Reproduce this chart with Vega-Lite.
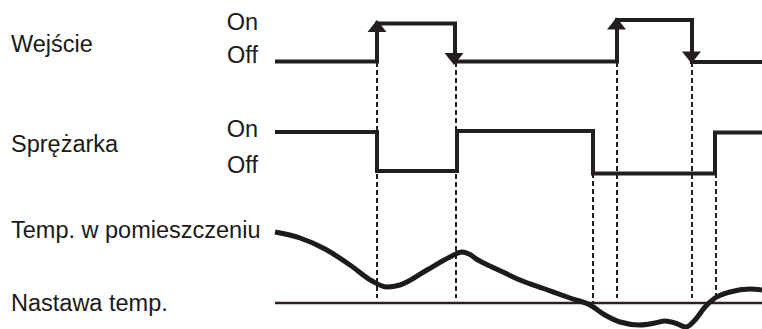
{
  "$schema": "https://vega.github.io/schema/vega-lite/v6.json",
  "width": 762,
  "height": 329,
  "padding": 0,
  "autosize": {"type": "none"},
  "background": "white",
  "config": {"view": {"stroke": null}},
  "datasets": {
    "signals": [
      {"s": "Wejście", "t": 275, "v": 61.5},
      {"s": "Wejście", "t": 377, "v": 23.5},
      {"s": "Wejście", "t": 455, "v": 61.5},
      {"s": "Wejście", "t": 617, "v": 20},
      {"s": "Wejście", "t": 692, "v": 62},
      {"s": "Wejście", "t": 762, "v": 62},
      {"s": "Sprężarka", "t": 275, "v": 132},
      {"s": "Sprężarka", "t": 377, "v": 171},
      {"s": "Sprężarka", "t": 457, "v": 131},
      {"s": "Sprężarka", "t": 593, "v": 173.5},
      {"s": "Sprężarka", "t": 715, "v": 132.5},
      {"s": "Sprężarka", "t": 762, "v": 132.5}
    ],
    "temp": [
      {"t": 275, "v": 232}, {"t": 300, "v": 238}, {"t": 325, "v": 249},
      {"t": 350, "v": 265}, {"t": 372, "v": 281}, {"t": 387, "v": 287},
      {"t": 400, "v": 285}, {"t": 427, "v": 270}, {"t": 450, "v": 257},
      {"t": 462, "v": 252}, {"t": 469, "v": 254}, {"t": 478, "v": 260},
      {"t": 490, "v": 266}, {"t": 505, "v": 273}, {"t": 520, "v": 280},
      {"t": 545, "v": 289}, {"t": 570, "v": 298}, {"t": 590, "v": 305},
      {"t": 605, "v": 315}, {"t": 620, "v": 322}, {"t": 640, "v": 325},
      {"t": 655, "v": 323}, {"t": 665, "v": 321}, {"t": 675, "v": 323},
      {"t": 686, "v": 327}, {"t": 695, "v": 320}, {"t": 705, "v": 307},
      {"t": 715, "v": 298}, {"t": 730, "v": 292}, {"t": 750, "v": 289},
      {"t": 762, "v": 290}
    ],
    "guides": [
      {"t": 377, "top": 62, "bottom": 298},
      {"t": 456, "top": 62, "bottom": 298},
      {"t": 593, "top": 173, "bottom": 304},
      {"t": 617, "top": 62, "bottom": 298},
      {"t": 692, "top": 62, "bottom": 298},
      {"t": 716, "top": 173, "bottom": 298}
    ],
    "setpoint": [{"t": 275, "t2": 762, "v": 303}],
    "arrows": [
      {"t": 377, "v": 26, "dir": "up"},
      {"t": 454, "v": 59, "dir": "down"},
      {"t": 616.5, "v": 23.5, "dir": "up"},
      {"t": 691.5, "v": 57.5, "dir": "down"}
    ],
    "labels": [
      {"text": "Wejście", "t": 11, "v": 52, "side": "left"},
      {"text": "Sprężarka", "t": 11, "v": 152, "side": "left"},
      {"text": "Temp. w pomieszczeniu", "t": 11, "v": 238, "side": "left"},
      {"text": "Nastawa temp.", "t": 11, "v": 311, "side": "left"},
      {"text": "On", "t": 258, "v": 30, "side": "right"},
      {"text": "Off", "t": 258, "v": 63, "side": "right"},
      {"text": "On", "t": 258, "v": 137, "side": "right"},
      {"text": "Off", "t": 258, "v": 173, "side": "right"}
    ]
  },
  "encoding": {
    "x": {"field": "t", "type": "quantitative", "scale": {"domain": [0, 762], "nice": false, "zero": false}, "axis": null},
    "y": {"field": "v", "type": "quantitative", "scale": {"domain": [0, 329], "nice": false, "zero": false, "reverse": true}, "axis": null}
  },
  "layer": [
    {
      "data": {"name": "guides"},
      "mark": {"type": "rule", "color": "#231f20", "strokeWidth": 2, "strokeDash": [5, 3]},
      "encoding": {
        "y": {"field": "top", "type": "quantitative"},
        "y2": {"field": "bottom"}
      }
    },
    {
      "data": {"name": "setpoint"},
      "mark": {"type": "rule", "color": "#2e211d", "strokeWidth": 2.5},
      "encoding": {
        "x2": {"field": "t2"}
      }
    },
    {
      "data": {"name": "temp"},
      "mark": {"type": "line", "interpolate": "monotone", "color": "#1c1a1a", "strokeWidth": 5, "strokeCap": "butt"},
      "encoding": {}
    },
    {
      "data": {"name": "signals"},
      "mark": {"type": "line", "interpolate": "step-after", "color": "#231f20", "strokeWidth": 4, "strokeJoin": "miter", "strokeCap": "butt"},
      "encoding": {"detail": {"field": "s", "type": "nominal"}}
    },
    {
      "data": {"name": "arrows"},
      "mark": {"type": "point", "filled": true, "color": "#231f20", "opacity": 1, "size": 361},
      "encoding": {
        "shape": {
          "field": "dir", "type": "nominal",
          "scale": {"domain": ["up", "down"], "range": ["M-1,0.64L0,-0.64L1,0.64Z", "M-1,-0.64L0,0.64L1,-0.64Z"]},
          "legend": null
        }
      }
    },
    {
      "data": {"name": "labels"},
      "transform": [{"filter": "datum.side === 'left'"}],
      "mark": {"type": "text", "align": "left", "baseline": "alphabetic", "font": "Liberation Sans", "fontSize": 23.5, "color": "#1a1a1a"},
      "encoding": {"text": {"field": "text"}}
    },
    {
      "data": {"name": "labels"},
      "transform": [{"filter": "datum.side === 'right'"}],
      "mark": {"type": "text", "align": "right", "baseline": "alphabetic", "font": "Liberation Sans", "fontSize": 23.5, "color": "#1a1a1a"},
      "encoding": {"text": {"field": "text"}}
    }
  ]
}
